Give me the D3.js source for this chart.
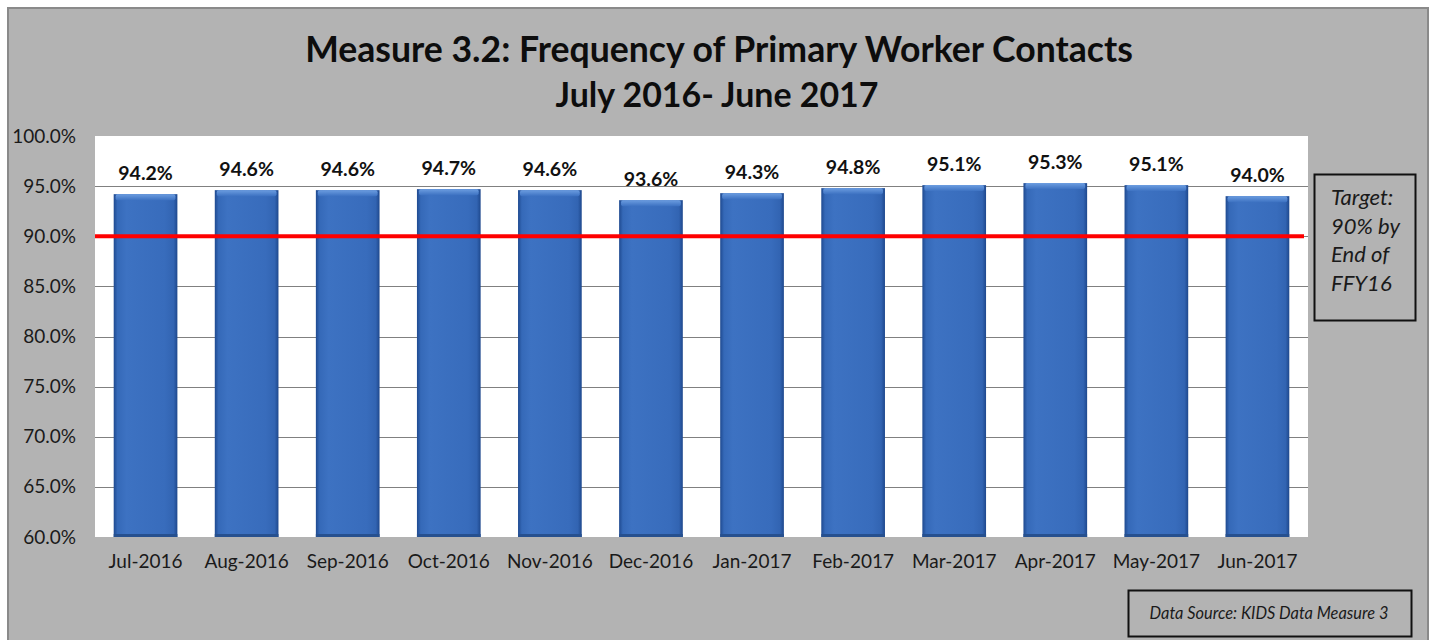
<!DOCTYPE html>
<html>
<head>
<meta charset="utf-8">
<script src="https://cdn.jsdelivr.net/npm/d3@7"></script>
<style>
  html, body { margin: 0; padding: 0; background: #ffffff; }
  svg { display: block; }
  text { font-family: Lato, "Open Sans", "DejaVu Sans", sans-serif; }
</style>
</head>
<body>
<svg id="chart" width="1432" height="640"></svg>
<script>
// Monthly percentage of primary worker contacts
const months = ["Jul-2016", "Aug-2016", "Sep-2016", "Oct-2016", "Nov-2016", "Dec-2016",
                "Jan-2017", "Feb-2017", "Mar-2017", "Apr-2017", "May-2017", "Jun-2017"];
const rates = [94.2, 94.6, 94.6, 94.7, 94.6, 93.6, 94.3, 94.8, 95.1, 95.3, 95.1, 94.0];
const yTicks = [60, 65, 70, 75, 80, 85, 90, 95, 100];
const target = 90;
const titleLines = ["Measure 3.2: Frequency of Primary Worker Contacts", "July 2016- June 2017"];
const targetNote = ["Target:", "90% by", "End of", "FFY16"];
const sourceNote = "Data Source: KIDS Data Measure 3";

const svg = d3.select("#chart");
const plot = { left: 95, right: 1308, top: 136, bottom: 537 };

// Panel background
svg.append("rect").attr("x", 8).attr("y", 8).attr("width", 1420).attr("height", 640)
  .attr("fill", "#b3b3b3").attr("stroke", "#8a8a8a").attr("stroke-width", 2);

// Gradients for the bevelled bars
const defs = svg.append("defs");
const g1 = defs.append("linearGradient").attr("id", "barBody").attr("x1", 0).attr("x2", 1).attr("y1", 0).attr("y2", 0);
[["0%", "#1f4a90"], ["6%", "#3569b8"], ["20%", "#3d72c2"], ["80%", "#386cbc"], ["94%", "#3264b2"], ["100%", "#1e488d"]]
  .forEach(([o, c]) => g1.append("stop").attr("offset", o).attr("stop-color", c));
const g2 = defs.append("linearGradient").attr("id", "barTop").attr("x1", 0).attr("x2", 0).attr("y1", 0).attr("y2", 1);
[["0%", "#6c9de0"], ["100%", "#3d72c2"]]
  .forEach(([o, c]) => g2.append("stop").attr("offset", o).attr("stop-color", c));

const x = d3.scaleBand().domain(months).range([plot.left, plot.right]).paddingInner(0.37).paddingOuter(0.185);
const y = d3.scaleLinear().domain([60, 100]).range([plot.bottom, plot.top]);

// Plot area
svg.append("rect").attr("x", plot.left).attr("y", plot.top)
  .attr("width", plot.right - plot.left).attr("height", plot.bottom - plot.top).attr("fill", "#ffffff");

// Gridlines
svg.append("g").selectAll("line").data(yTicks.filter(t => t > 60 && t < 100)).join("line")
  .attr("x1", plot.left).attr("x2", plot.right)
  .attr("y1", d => Math.round(y(d)) + 0.5).attr("y2", d => Math.round(y(d)) + 0.5)
  .attr("stroke", "#808080").attr("stroke-width", 1);

// Y axis labels
const yAxis = svg.append("g").attr("transform", `translate(${plot.left},0)`)
  .call(d3.axisLeft(y).tickValues(yTicks).tickFormat(d => d.toFixed(1) + "%").tickSize(0).tickPadding(19));
yAxis.select(".domain").remove();
yAxis.selectAll("text").attr("font-size", 19).attr("fill", "#1a1a1a")
  .style("font-family", "Lato, sans-serif");

// Bars
const bars = svg.append("g").selectAll("g").data(months).join("g");
bars.append("rect")
  .attr("x", d => x(d)).attr("width", x.bandwidth())
  .attr("y", (d, i) => y(rates[i])).attr("height", (d, i) => y(60) - y(rates[i]))
  .attr("fill", "url(#barBody)");
bars.append("rect")
  .attr("x", d => x(d) + 2).attr("width", x.bandwidth() - 4)
  .attr("y", (d, i) => y(rates[i])).attr("height", 6)
  .attr("rx", 2).attr("fill", "url(#barTop)");
bars.append("rect")
  .attr("x", d => x(d)).attr("width", x.bandwidth())
  .attr("y", y(60) - 3).attr("height", 3)
  .attr("fill", "#26508f");

// Value labels
bars.append("text")
  .attr("x", d => x(d) + x.bandwidth() / 2)
  .attr("y", (d, i) => y(rates[i]) - 14)
  .attr("text-anchor", "middle").attr("font-size", 19.5).attr("font-weight", 700).attr("fill", "#111")
  .text((d, i) => rates[i].toFixed(1) + "%");

// Target line
svg.append("line")
  .attr("x1", plot.left).attr("x2", plot.right - 4)
  .attr("y1", y(target)).attr("y2", y(target))
  .attr("stroke", "#ff0000").attr("stroke-width", 4);

// X axis labels
const xAxis = svg.append("g").attr("transform", `translate(0,${plot.bottom})`)
  .call(d3.axisBottom(x).tickSize(0).tickPadding(18));
xAxis.select(".domain").remove();
xAxis.selectAll("text").attr("font-size", 19).attr("fill", "#1a1a1a")
  .style("font-family", "Lato, sans-serif");

// Fit a text element to a given width
function fitWidth(sel, width) {
  const node = sel.node();
  const fs = parseFloat(sel.attr("font-size"));
  const w = node.getComputedTextLength();
  sel.attr("font-size", fs * width / w);
}

// Title
const t1 = svg.append("text").attr("x", 719).attr("y", 62).attr("text-anchor", "middle")
  .attr("font-size", 32).attr("font-weight", 700).attr("fill", "#0d0d0d").text(titleLines[0]);
fitWidth(t1, 828);
const t2 = svg.append("text").attr("x", 717).attr("y", 107).attr("text-anchor", "middle")
  .attr("font-size", 32).attr("font-weight", 700).attr("fill", "#0d0d0d").text(titleLines[1]);
fitWidth(t2, 323);

// Target note box
svg.append("rect").attr("x", 1314.5).attr("y", 174.5).attr("width", 101).attr("height", 146)
  .attr("fill", "none").attr("stroke", "#111").attr("stroke-width", 2);
svg.append("g").selectAll("text").data(targetNote).join("text")
  .attr("x", 1331).attr("y", (d, i) => 205 + i * 28.5)
  .attr("font-size", 22).attr("font-style", "italic").attr("fill", "#1a1a1a")
  .text(d => d);

// Data source box
svg.append("rect").attr("x", 1128.5).attr("y", 590.5).attr("width", 283).attr("height", 46)
  .attr("fill", "none").attr("stroke", "#111").attr("stroke-width", 2);
const src = svg.append("text").attr("x", 1269).attr("y", 619).attr("text-anchor", "middle")
  .attr("font-size", 15).attr("font-style", "italic").attr("fill", "#1a1a1a").text(sourceNote);
fitWidth(src, 239);
</script>
</body>
</html>
